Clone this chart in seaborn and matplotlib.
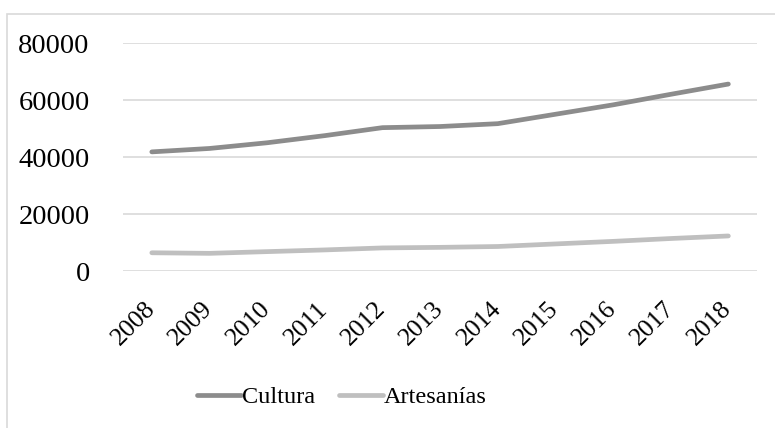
import pandas as pd
import numpy as np
import matplotlib.pyplot as plt
import seaborn as sns
from matplotlib.patches import Rectangle

# datos
years = [2008, 2009, 2010, 2011, 2012, 2013, 2014, 2015, 2016, 2017, 2018]
cultura = [41800, 43000, 45000, 47500, 50300, 50700, 51700, 55000, 58300, 62000, 65600]
artesanias = [6400, 6200, 6800, 7400, 8100, 8300, 8600, 9500, 10400, 11400, 12300]
series_names = ["Cultura", "Artesanías"]
series_colors = ["#8c8c8c", "#bfbfbf"]
y_ticks = [0, 20000, 40000, 60000, 80000]

df = pd.DataFrame({
    "year": [str(y) for y in years] * 2,
    "value": cultura + artesanias,
    "serie": [series_names[0]] * len(years) + [series_names[1]] * len(years),
})

sns.set_style("white")
plt.rcParams['font.family'] = ['Liberation Serif', 'DejaVu Serif']
plt.rcParams['text.color'] = 'black'
plt.rcParams['xtick.color'] = 'black'
plt.rcParams['ytick.color'] = 'black'

fig = plt.figure(figsize=(7.75, 4.28), dpi=100)
ax = fig.add_axes([0.1587, 0.3668, 0.8183, 0.5327])

# marco exterior (recortado como en el original)
fig.patches.append(Rectangle((7 / 775, -0.05), 1.1, 1 - 14 / 428 + 0.05,
                             transform=fig.transFigure, fill=False,
                             edgecolor="#d9d9d9", linewidth=1.2, zorder=0))

sns.lineplot(data=df, x="year", y="value", hue="serie", palette=series_colors,
             hue_order=series_names, linewidth=3.4, ax=ax, sort=False,
             legend=True)
for ln in ax.get_lines():
    ln.set_solid_capstyle("round")

ax.set_xlim(-0.5, len(years) - 0.5)
ax.set_ylim(0, 80000)
ax.set_yticks(y_ticks)
ax.set_yticklabels([str(t) for t in y_ticks])
ax.yaxis.grid(True, color="#d9d9d9", linewidth=1.2)
ax.set_axisbelow(True)
for s in ax.spines.values():
    s.set_visible(False)
ax.set_xlabel("")
ax.set_ylabel("")
ax.tick_params(axis="y", length=0, pad=24, labelsize=20.5, labelcolor="black")
ax.tick_params(axis="x", length=0, pad=25, labelsize=18.5, labelcolor="black")
plt.setp(ax.get_xticklabels(), rotation=45, ha="right", va="center",
         rotation_mode="anchor")

handles, labels = ax.get_legend_handles_labels()
ax.legend(handles, labels, loc="center", ncol=2, frameon=False,
          fontsize=17.5, handlelength=1.8, handletextpad=0.05, columnspacing=1.0,
          labelcolor="black")
leg = ax.get_legend()
leg.set_bbox_to_anchor((342 / 775, 1 - 397 / 428), transform=fig.transFigure)
for lh in leg.get_lines():
    lh.set_linewidth(3.4)

fig.savefig("out.png", dpi=100)
